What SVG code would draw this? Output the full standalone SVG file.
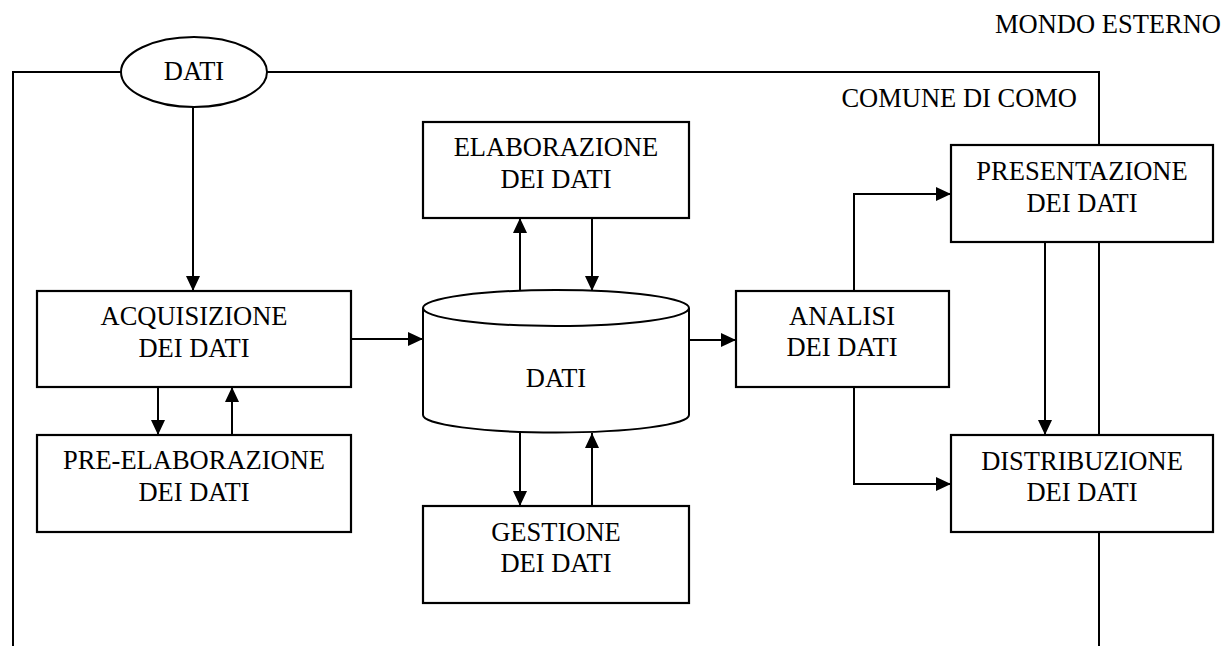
<svg xmlns="http://www.w3.org/2000/svg" width="1229" height="646" viewBox="0 0 1229 646">
<style>
  .box { fill: #fff; stroke: #000; stroke-width: 2.2; }
  .shape { fill: #fff; stroke: #000; stroke-width: 2; }
  .ln { fill: none; stroke: #000; stroke-width: 2; }
  text { font-family: "Liberation Serif", "Times New Roman", serif; font-size: 26.5px; fill: #000; text-anchor: middle; }
</style>
<defs>
  <marker id="ah" viewBox="0 0 15 15" refX="15" refY="7.5" markerWidth="15" markerHeight="15" markerUnits="userSpaceOnUse" orient="auto">
    <path d="M0,0.5 L15,7.5 L0,14.5 z" fill="#000"/>
  </marker>
</defs>
<rect width="1229" height="646" fill="#fff"/>

<g id="labels">
  <text x="1221" y="33" style="text-anchor:end">MONDO ESTERNO</text>
  <text x="1077" y="107" style="text-anchor:end">COMUNE DI COMO</text>
</g>

<g id="connectors">
  <path class="ln" d="M121,72 H13 V646"/>
  <path class="ln" d="M267,72 H1099 V145"/>
  <path class="ln" d="M1099,242 V435"/>
  <path class="ln" d="M1099,532 V646"/>
  <path class="ln" d="M193,107 V291" marker-end="url(#ah)"/>
  <path class="ln" d="M158,387 V435" marker-end="url(#ah)"/>
  <path class="ln" d="M232,435 V387" marker-end="url(#ah)"/>
  <path class="ln" d="M351,339 H423" marker-end="url(#ah)"/>
  <path class="ln" d="M520,291 V218" marker-end="url(#ah)"/>
  <path class="ln" d="M592,218 V291" marker-end="url(#ah)"/>
  <path class="ln" d="M520,432 V506" marker-end="url(#ah)"/>
  <path class="ln" d="M592,506 V433" marker-end="url(#ah)"/>
  <path class="ln" d="M688,340 H736" marker-end="url(#ah)"/>
  <path class="ln" d="M854,291 V194 H951" marker-end="url(#ah)"/>
  <path class="ln" d="M854,387 V484 H951" marker-end="url(#ah)"/>
  <path class="ln" d="M1045,242 V435" marker-end="url(#ah)"/>
</g>

<g id="dati-source">
  <ellipse class="shape" cx="194" cy="72" rx="73" ry="35"/>
  <text x="194" y="80">DATI</text>
</g>

<g id="acquisizione">
  <rect class="box" x="37" y="291" width="314" height="96"/>
  <text x="194" y="325">ACQUISIZIONE</text>
  <text x="194" y="357">DEI DATI</text>
</g>

<g id="pre-elaborazione">
  <rect class="box" x="37" y="435" width="314" height="97"/>
  <text x="194" y="469">PRE-ELABORAZIONE</text>
  <text x="194" y="501">DEI DATI</text>
</g>

<g id="elaborazione">
  <rect class="box" x="423" y="122" width="266" height="96"/>
  <text x="556" y="156">ELABORAZIONE</text>
  <text x="556" y="188">DEI DATI</text>
</g>

<g id="database">
  <path class="shape" d="M423,308 V415 A133,17.5 0 0 0 689,415 V308"/>
  <ellipse class="shape" cx="556" cy="308" rx="133" ry="18"/>
  <text x="556" y="387">DATI</text>
</g>

<g id="gestione">
  <rect class="box" x="423" y="506" width="266" height="97"/>
  <text x="556" y="541">GESTIONE</text>
  <text x="556" y="572">DEI DATI</text>
</g>

<g id="analisi">
  <rect class="box" x="736" y="291" width="213" height="96"/>
  <text x="842" y="325">ANALISI</text>
  <text x="842" y="356">DEI DATI</text>
</g>

<g id="presentazione">
  <rect class="box" x="951" y="145" width="262" height="97"/>
  <text x="1082" y="180">PRESENTAZIONE</text>
  <text x="1082" y="212">DEI DATI</text>
</g>

<g id="distribuzione">
  <rect class="box" x="951" y="435" width="262" height="97"/>
  <text x="1082" y="470">DISTRIBUZIONE</text>
  <text x="1082" y="501">DEI DATI</text>
</g>
</svg>
